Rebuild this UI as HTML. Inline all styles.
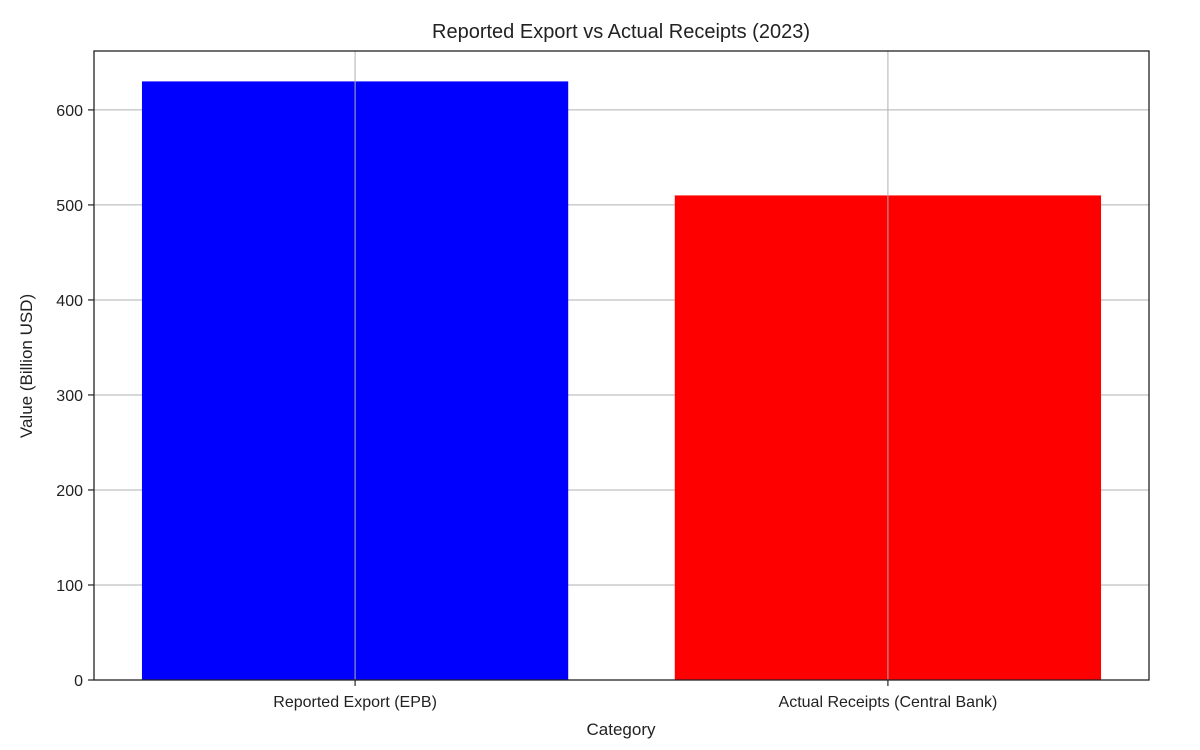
<!DOCTYPE html>
<html><head><meta charset="utf-8"><style>
html,body{margin:0;padding:0;background:#fff;}
svg{display:block;font-family:"Liberation Sans","DejaVu Sans",sans-serif;}
</style></head><body>
<svg id="chart" width="1200" height="750" viewBox="0 0 1200 750">
<text x="621" y="38" text-anchor="middle" font-size="20" fill="#222">Reported Export vs Actual Receipts (2023)</text>
<g id="grid"></g>
<g id="bars"></g>
<g id="vgrid"></g>
<rect x="94" y="51" width="1055" height="629" fill="none" stroke="#222" stroke-width="1.3"/>
<g id="yticks"></g>
<g id="xticks"></g>
<text x="621" y="735" text-anchor="middle" font-size="17" fill="#222">Category</text>
<text transform="translate(32,366) rotate(-90)" text-anchor="middle" font-size="17" fill="#222">Value (Billion USD)</text>
</svg>
<script>
const categories = ["Reported Export (EPB)", "Actual Receipts (Central Bank)"];
const values = [630, 510];
const colors = ["#0000ff", "#ff0000"];
const yTicks = [0, 100, 200, 300, 400, 500, 600];
const NS = "http://www.w3.org/2000/svg";
const L = 94, R = 1149, T = 51, B = 680, yMax = 662;
function y(v){ return B - v / yMax * (B - T); }
function mk(tag, attrs, parent){ const e = document.createElementNS(NS, tag); for (const k in attrs) e.setAttribute(k, attrs[k]); parent.appendChild(e); return e; }
const grid = document.getElementById("grid"), bars = document.getElementById("bars"), vgrid = document.getElementById("vgrid");
const yt = document.getElementById("yticks"), xt = document.getElementById("xticks");
const pad = 0.49;
const step = (R - L) / (categories.length - 1 + 2 * pad);
function xpos(i){ return L + step * (pad + i); }
const bw = step * 0.8;
yTicks.forEach(v => {
  const g = mk("line", {x1: L, x2: R, y1: y(v), y2: y(v), stroke: "#b0b0b0", "stroke-width": 1}, grid);
  
  
  const t = mk("line", {x1: L - 6, x2: L, y1: y(v), y2: y(v), stroke: "#222", "stroke-width": 1.2}, yt);
  
  
  const lb = mk("text", {x: L - 11, y: y(v) + 6, "text-anchor": "end", "font-size": 16, fill: "#222"}, yt);
  lb.textContent = v;
  
  
});
categories.forEach((c, i) => {
  const cx = xpos(i);
  const r = mk("rect", {x: cx - bw / 2, y: y(values[i]), width: bw, height: B - y(values[i]), fill: colors[i]}, bars);
  
  
  const g = mk("line", {x1: cx, x2: cx, y1: T, y2: B, stroke: "#b0b0b0", "stroke-width": 1}, vgrid);
  
  
  const t = mk("line", {x1: cx, x2: cx, y1: B, y2: B + 6, stroke: "#222", "stroke-width": 1.2}, xt);
  
  
  const lb = mk("text", {x: cx, y: B + 27, "text-anchor": "middle", "font-size": 16, fill: "#222"}, xt);
  lb.textContent = c;
  
  
});
</script>
</body></html>
